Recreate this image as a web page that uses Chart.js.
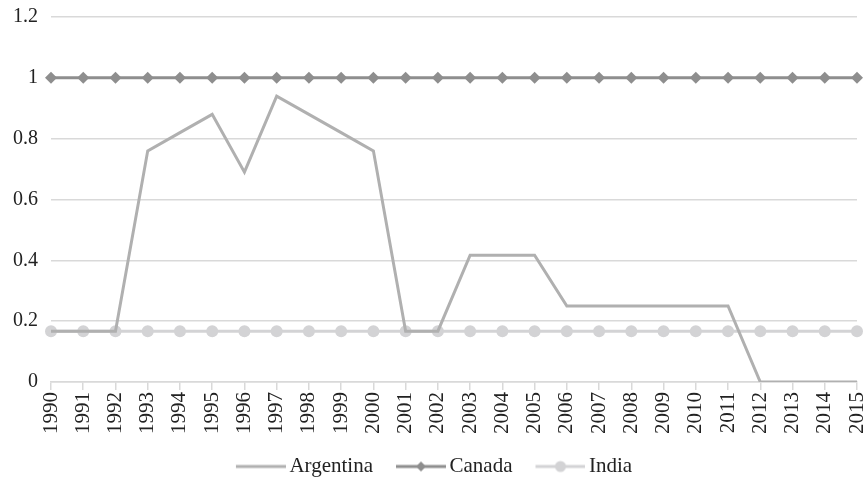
<!DOCTYPE html>
<html>
<head>
<meta charset="utf-8">
<script src="https://cdn.jsdelivr.net/npm/chart.js@4.4.0/dist/chart.umd.min.js"></script>
<style>
  html, body { margin: 0; padding: 0; background: #fff; }
  #wrap { width: 865px; height: 489px; position: relative; }
</style>
</head>
<body>
<div id="wrap"><canvas id="chart"></canvas></div>
<script>
// chart data
const years = ['1990','1991','1992','1993','1994','1995','1996','1997','1998','1999','2000','2001','2002',
               '2003','2004','2005','2006','2007','2008','2009','2010','2011','2012','2013','2014','2015'];
const argentina = [0.167, 0.167, 0.167, 0.76, 0.82, 0.88, 0.69, 0.94, 0.88, 0.82, 0.76, 0.167, 0.167,
                   0.417, 0.417, 0.417, 0.25, 0.25, 0.25, 0.25, 0.25, 0.25, 0, 0, 0, 0];
const canada = [1, 1, 1, 1, 1, 1, 1, 1, 1, 1, 1, 1, 1, 1, 1, 1, 1, 1, 1, 1, 1, 1, 1, 1, 1, 1];
const india = [0.167, 0.167, 0.167, 0.167, 0.167, 0.167, 0.167, 0.167, 0.167, 0.167, 0.167, 0.167, 0.167,
               0.167, 0.167, 0.167, 0.167, 0.167, 0.167, 0.167, 0.167, 0.167, 0.167, 0.167, 0.167, 0.167];
const yTicks = [0, 0.2, 0.4, 0.6, 0.8, 1, 1.2];

const COL_ARG = '#b0b0b0';
const COL_CAN = '#8e8e8e';
const COL_IND = '#d3d3d5';
const FONT = 'Liberation Serif';

// legend swatch: 50px line with a marker, 10px empty on the left
function legendSwatch(color, marker) {
    const c = document.createElement('canvas');
    c.width = 60; c.height = 14;
    const g = c.getContext('2d');
    g.strokeStyle = color;
    g.lineWidth = 3;
    g.beginPath();
    g.moveTo(10, 7); g.lineTo(60, 7);
    g.stroke();
    g.fillStyle = color;
    if (marker === 'diamond') {
        g.beginPath();
        g.moveTo(35, 2); g.lineTo(40, 7); g.lineTo(35, 12); g.lineTo(30, 7);
        g.closePath(); g.fill();
    } else if (marker === 'circle') {
        g.beginPath();
        g.arc(35, 7, 5.5, 0, Math.PI * 2);
        g.fill();
    }
    return c;
}

const swatches = [legendSwatch(COL_ARG, null), legendSwatch(COL_CAN, 'diamond'), legendSwatch(COL_IND, 'circle')];

new Chart(document.getElementById('chart'), {
    type: 'line',
    data: {
        labels: years,
        datasets: [
            {
                label: 'Argentina',
                data: argentina,
                borderColor: COL_ARG,
                backgroundColor: COL_ARG,
                borderWidth: 3,
                pointRadius: 0,
                tension: 0
            },
            {
                label: 'Canada',
                data: canada,
                borderColor: COL_CAN,
                backgroundColor: COL_CAN,
                borderWidth: 3,
                pointStyle: 'rectRot',
                pointRadius: 6,
                pointBorderWidth: 0,
                tension: 0
            },
            {
                label: 'India',
                data: india,
                borderColor: COL_IND,
                backgroundColor: COL_IND,
                borderWidth: 3,
                pointStyle: 'circle',
                pointRadius: 6,
                pointBorderWidth: 0,
                tension: 0
            }
        ]
    },
    options: {
        responsive: true,
        maintainAspectRatio: false,
        animation: false,
        layout: { padding: { top: 0, right: 0, left: 0, bottom: 2 } },
        plugins: {
            tooltip: { enabled: false },
            legend: {
                position: 'bottom',
                labels: {
                    usePointStyle: true,
                    pointStyleWidth: 46,
                    boxHeight: 14,
                    padding: 20,
                    color: '#222',
                    font: { family: FONT, size: 21 },
                    generateLabels: function (chart) {
                        return chart.data.datasets.map((ds, i) => ({
                            text: ds.label,
                            pointStyle: swatches[i],
                            fillStyle: ds.borderColor,
                            strokeStyle: ds.borderColor,
                            lineWidth: 0,
                            hidden: false,
                            datasetIndex: i,
                            fontColor: '#222'
                        }));
                    }
                }
            }
        },
        scales: {
            x: {
                offset: false,
                afterFit: function (axis) {
                    axis.paddingRight = 8;
                },
                grid: {
                    display: true,
                    drawOnChartArea: false,
                    drawTicks: true,
                    tickLength: 8,
                    color: '#d9d9d9',
                    lineWidth: 1.5
                },
                border: { display: true, color: '#d9d9d9', width: 1.5 },
                ticks: {
                    autoSkip: false,
                    maxRotation: 90,
                    minRotation: 90,
                    padding: 2,
                    color: '#222',
                    font: { family: FONT, size: 21 }
                }
            },
            y: {
                min: 0,
                max: 1.2,
                afterBuildTicks: function (axis) {
                    axis.ticks = yTicks.map(v => ({ value: v }));
                },
                afterFit: function (axis) {
                    axis.paddingTop = 17;
                },
                grid: {
                    color: '#d9d9d9',
                    lineWidth: 1.5,
                    drawTicks: false
                },
                border: { display: false },
                ticks: {
                    padding: 13,
                    color: '#222',
                    font: { family: FONT, size: 20 },
                    callback: function (v) { return String(Math.round(v * 10) / 10); }
                }
            }
        }
    }
});
</script>
</body>
</html>
